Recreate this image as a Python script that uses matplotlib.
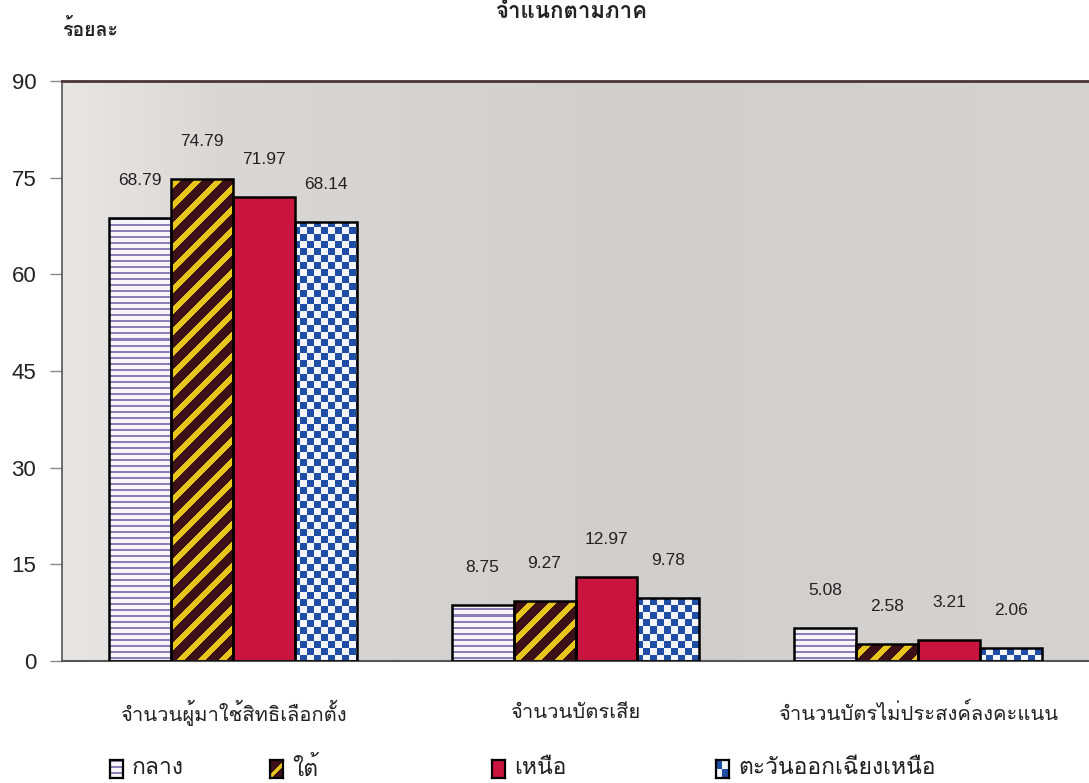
import numpy as np
import matplotlib
matplotlib.use("Agg")
import matplotlib.pyplot as plt
from matplotlib import font_manager
from matplotlib.ft2font import FT2Font
from matplotlib.colors import to_rgb

# ---------------- data ----------------
categories = ["จำนวนผู้มาใช้สิทธิเลือกตั้ง", "จำนวนบัตรเสีย", "จำนวนบัตรไม่ประสงค์ลงคะแนน"]
regions = ["กลาง", "ใต้", "เหนือ", "ตะวันออกเฉียงเหนือ"]
central = [68.79, 8.75, 5.08]
south = [74.79, 9.27, 2.58]
north = [71.97, 12.97, 3.21]
northeast = [68.14, 9.78, 2.06]
yticks = [0, 15, 30, 45, 60, 75, 90]
title = "จำแนกตามภาค"
ylabel = "ร้อยละ"

# ---------------- fonts ----------------
def find_thai_font():
    prefs = ["Loma", "Garuda", "Noto Sans Thai", "Noto Sans Thai UI", "Tlwg Typo",
             "Umpush", "Waree", "Sawasdee", "Kinnari", "Norasi", "Noto Serif Thai",
             "Noto Sans Thai Looped"]
    found = {}
    for f in font_manager.fontManager.ttflist:
        try:
            cm = FT2Font(f.fname).get_charmap()
        except Exception:
            continue
        if 0x0E01 in cm and 0x0E49 in cm:
            found.setdefault(f.name, f.fname)
    for p in prefs:
        if p in found:
            return p
    if found:
        return sorted(found)[0]
    return "DejaVu Sans"

THAI = find_thai_font()
NUMF = "Liberation Sans"
thai_fam = [THAI, "DejaVu Sans"]

# ---------------- figure ----------------
W_PX, H_PX = 1089, 783
fig = plt.figure(figsize=(W_PX / 100, H_PX / 100), dpi=100)
fig.patch.set_facecolor("white")

ax_l, ax_b, ax_w, ax_h = 62 / W_PX, 1 - 661 / H_PX, 1 - 62 / W_PX, (661 - 81) / H_PX
ax = fig.add_axes([ax_l, ax_b, ax_w, ax_h])
XLIM = (-0.5, 2.5)
YLIM = (0, 90)

pw, ph = int(round(ax_w * W_PX)), int(round(ax_h * H_PX))
rr, cc = np.mgrid[0:ph, 0:pw]

def texture(kind):
    img = np.ones((ph, pw, 3))
    if kind == "hstripe":
        img[:] = to_rgb("#f7f5fa")
        mask = (rr % 6) < 2
        img[mask] = to_rgb("#8a7fb8")
    elif kind == "diag":
        img[:] = to_rgb("#3b1016")
        mask = ((cc + rr) % 21) < 8
        img[mask] = to_rgb("#e8c51c")
    elif kind == "checker":
        img[:] = to_rgb("#f4f6fb")
        cell = 7
        mask = ((rr // cell) + (cc // cell)) % 2 == 0
        img[mask] = to_rgb("#1f4ea6")
    return img

# background: scanned-paper grey gradient
bg_cols = np.array([to_rgb("#e9e7e6"), to_rgb("#dad8d6"), to_rgb("#d1cfcd"), to_rgb("#d5d3d1")])
xs = np.linspace(0, 1, pw)
bg_row = np.stack([np.interp(xs, [0, 0.15, 0.55, 1.0], bg_cols[:, k]) for k in range(3)], axis=-1)
bg = np.repeat(bg_row[None, :, :], 2, axis=0)
ax.imshow(bg, extent=(XLIM[0], XLIM[1], YLIM[0], YLIM[1]), aspect="auto", zorder=0,
          interpolation="bilinear")

series = [central, south, north, northeast]
kinds = ["hstripe", "diag", None, "checker"]
fills = ["#f7f5fa", "#3b1016", "#c8143e", "#1f4ea6"]
n = len(series)
bw = 0.181
x = np.arange(len(categories))

for i, (vals, kind, fc) in enumerate(zip(series, kinds, fills)):
    xpos = x + (i - (n - 1) / 2) * bw
    bars = ax.bar(xpos, vals, width=bw, color=fc, edgecolor="none", zorder=2)
    if kind is not None:
        tex = texture(kind)
        for b in bars:
            im = ax.imshow(tex, extent=(XLIM[0], XLIM[1], YLIM[0], YLIM[1]), aspect="auto",
                           origin="upper", interpolation="nearest", zorder=2.5)
            im.set_clip_path(b)
    ax.bar(xpos, vals, width=bw, fill=False, edgecolor="black", linewidth=1.8, zorder=3)
    for xp, v in zip(xpos, vals):
        ax.annotate(f"{v:.2f}", (xp, v), xytext=(0, 27), textcoords="offset points",
                    ha="center", va="center", fontsize=12.5, family=NUMF, color="#222222",
                    zorder=4)

ax.set_xlim(*XLIM)
ax.set_ylim(*YLIM)
ax.set_yticks(yticks)
ax.set_yticklabels([str(t) for t in yticks], family=NUMF, fontsize=16, color="#222222")
ax.tick_params(axis="y", length=8.5, width=1, color="#888888", pad=10)
ax.set_xticks([])
ax.spines["right"].set_visible(False)
ax.spines["top"].set_color("#4a3434")
ax.spines["top"].set_linewidth(2)
ax.spines["left"].set_color("#555555")
ax.spines["left"].set_linewidth(1.2)
ax.spines["bottom"].set_color("#555555")
ax.spines["bottom"].set_linewidth(1.5)

for xi, c in zip(x, categories):
    ax.text(xi, -52 / ph, c, transform=ax.get_xaxis_transform(), ha="center", va="center",
            fontsize=14.5, family=thai_fam, color="#222222")

fig.text(572 / W_PX, 1 - 12 / H_PX, title, ha="center", va="center", fontsize=16,
         weight="bold", family=thai_fam, color="#222222")
fig.text(62 / W_PX, 1 - 30 / H_PX, ylabel, ha="left", va="center", fontsize=14,
         weight="bold", family=thai_fam, color="#222222")

# legend (manual, row at the bottom)
leg_x = [110, 270, 492, 716]
sw_w, sw_h = 13, 18
leg_y = 769
for lx, name, kind, fc in zip(leg_x, regions, kinds, fills):
    sax = fig.add_axes([lx / W_PX, 1 - (leg_y + sw_h / 2) / H_PX, sw_w / W_PX, sw_h / H_PX])
    sax.set_xticks([]); sax.set_yticks([])
    r2, c2 = np.mgrid[0:sw_h, 0:sw_w]
    img = np.ones((sw_h, sw_w, 3))
    img[:] = to_rgb(fc)
    if kind == "hstripe":
        img[(r2 % 6) < 2] = to_rgb("#8a7fb8")
    elif kind == "diag":
        img[np.abs((c2 + r2) - 16) < 3] = to_rgb("#e8c51c")
    elif kind == "checker":
        img[:] = to_rgb("#1f4ea6")
        img[(r2 < sw_h // 2) & (c2 >= sw_w // 2)] = to_rgb("#f4f6fb")
        img[(r2 >= sw_h // 2) & (c2 < sw_w // 2)] = to_rgb("#f4f6fb")
    sax.imshow(img, aspect="auto", interpolation="nearest")
    for sp in sax.spines.values():
        sp.set_linewidth(1.6)
        sp.set_color("black")
    fig.text((lx + sw_w + 9) / W_PX, 1 - leg_y / H_PX, name, ha="left", va="center",
             fontsize=16.5, family=thai_fam, color="#222222")

fig.savefig("out.png", dpi=100)
